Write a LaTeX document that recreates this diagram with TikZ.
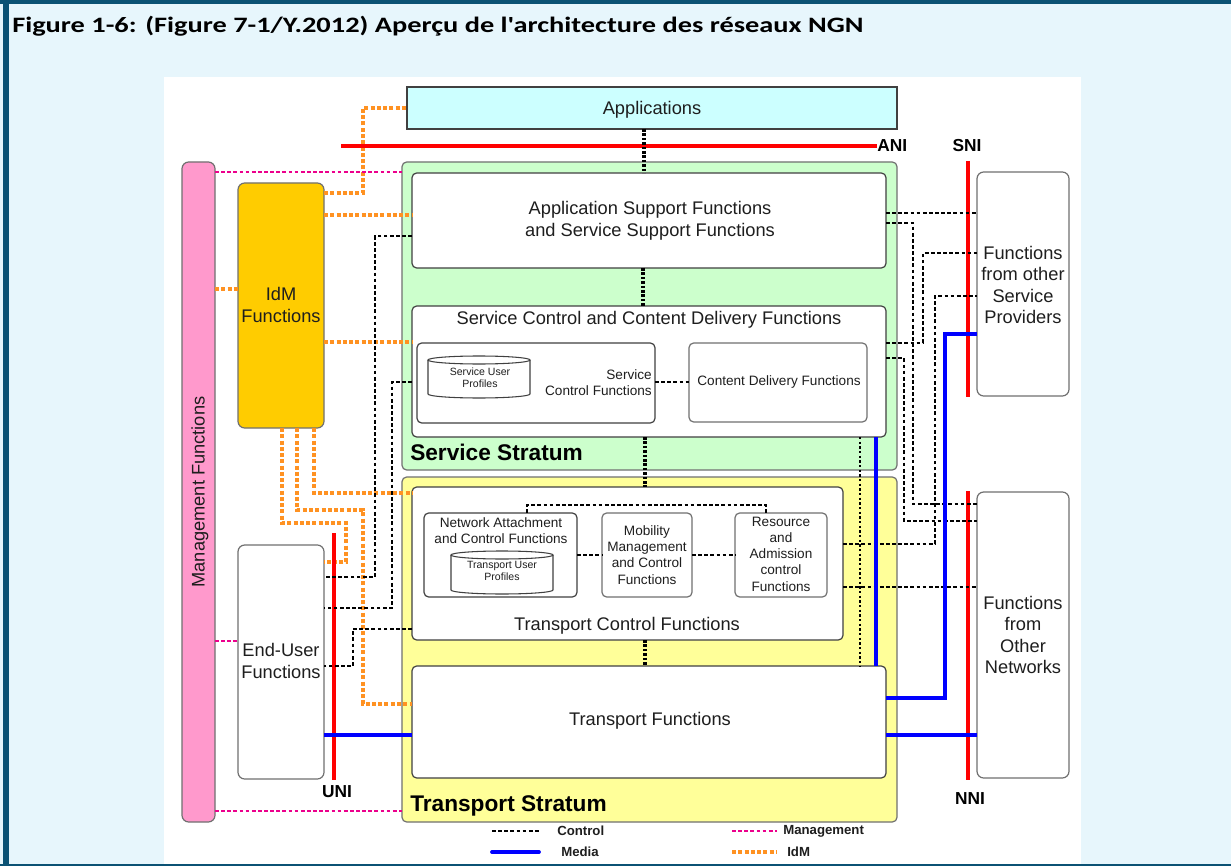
\documentclass[tikz,border=0pt]{standalone}
\usepackage{fontspec}
\setmainfont{Liberation Sans}
\newfontfamily\titlefont{Carlito}
\usetikzlibrary{fit}

\definecolor{frameblue}{HTML}{0B5274}
\definecolor{pageblue}{HTML}{E7F6FC}
\definecolor{appcyan}{HTML}{CCFFFF}
\definecolor{servgreen}{HTML}{CCFFCC}
\definecolor{transyellow}{HTML}{FFFF99}
\definecolor{mgmtpink}{HTML}{FF99CC}
\definecolor{idmgold}{HTML}{FFCC00}
\definecolor{idmorange}{HTML}{FF9222}
\definecolor{edgegray}{HTML}{707070}
\definecolor{darkedge}{HTML}{404040}
\definecolor{inkgray}{HTML}{1E1E1E}
\definecolor{mediablue}{HTML}{0000FF}

\tikzset{
  box/.style={draw=edgegray, line width=0.9pt, rounded corners=3.5pt, inner sep=0pt, outer sep=0pt},
  wbox/.style={box, fill=white},
  txt/.style={text=inkgray, align=center, inner sep=0pt, font=\fontsize{13.7}{16.2}\selectfont},
  smalltxt/.style={txt, font=\fontsize{10.2}{12.2}\selectfont},
  tinytxt/.style={txt, font=\fontsize{7.9}{9}\selectfont},
  stratlab/.style={text=black, inner sep=0pt, anchor=base west, font=\bfseries\fontsize{17}{20}\selectfont},
  iflab/.style={text=black, inner sep=0pt, font=\bfseries\fontsize{13}{15}\selectfont},
  legtxt/.style={text=inkgray, inner sep=0pt, anchor=west, font=\bfseries\fontsize{9.9}{12}\selectfont},
  ctrl/.style={draw=black, line width=2.2pt, dash pattern=on 2.8pt off 1.8pt},
  ctrlthick/.style={draw=black, line width=2.7pt, dash pattern=on 1.9pt off 1.4pt},
  ctrlthin/.style={draw=black, line width=1.8pt, dash pattern=on 1.8pt off 1.7pt},
  medialine/.style={draw=mediablue, line width=2.8pt},
  idmline/.style={draw=idmorange, line width=2.3pt, dash pattern=on 3pt off 1.7pt},
  mgmtline/.style={draw=magenta, line width=2.1pt, dash pattern=on 2.8pt off 1.8pt},
  iface/.style={draw=red, line width=2.8pt},
  cyl/.style={draw=darkedge, line width=0.8pt},
}

\begin{document}
\begin{tikzpicture}[x=0.75pt, y=-0.75pt]
\useasboundingbox (0,0) rectangle (1231,866);

% page frame and figure canvas
\fill[pageblue] (0,0) rectangle (1231,866);
\fill[white] (164,77) rectangle (1081,864);
\fill[frameblue] (0,0) rectangle (1231,4);
\fill[frameblue] (3,0) rectangle (8.5,866);
\fill[frameblue] (0,864) rectangle (1231,866);

\node[anchor=base west, inner sep=0pt, text=black, font=\titlefont\bfseries\fontsize{16.5}{19}\selectfont] (title) at (12,33)
  {\scalebox{1.29}[1]{Figure 1-6: (Figure 7-1/Y.2012) Aperçu de l'architecture des réseaux NGN}};

% strata
\node[box, fill=servgreen, fit={(402,162)(897,470)}] (ss) {};
\node[box, fill=transyellow, fit={(402,477)(897,822)}] (ts) {};
\node[stratlab] (ss-t) at (410,460) {Service Stratum};
\node[stratlab] (ts-t) at (410,811) {Transport Stratum};

% side blocks
\node[box, draw=darkedge, fill=appcyan, rounded corners=0pt, fit={(407,87)(897,129)}] (app) {};
\node[txt] (app-t) at (652,110) {Applications};
\node[box, fill=mgmtpink, rounded corners=5pt, fit={(182,162)(215,822)}] (mgmt) {};
\node[txt, rotate=90] (mgmt-t) at (200,492) {Management Functions};
\node[box, fill=idmgold, rounded corners=5pt, fit={(238,183)(324,428)}] (idm) {};
\node[txt] (idm-t) at (281,305) {IdM\\Functions};
\node[wbox, rounded corners=5pt, fit={(238,545)(324,779)}] (eu) {};
\node[txt] (eu-t) at (281,661) {End-User\\Functions};
\node[wbox, rounded corners=5pt, fit={(977,172)(1069,396)}] (osp) {};
\node[txt] (osp-t) at (1023,285) {Functions\\from other\\Service\\Providers};
\node[wbox, rounded corners=5pt, fit={(977,492)(1069,778)}] (onw) {};
\node[txt] (onw-t) at (1023,635) {Functions\\from\\Other\\Networks};

% service stratum content
\node[wbox, draw=darkedge, fit={(412,173)(886,268)}] (asf) {};
\node[txt] (asf-t) at (650,221) {Application Support Functions\\and Service Support Functions};
\node[wbox, draw=darkedge, fit={(412,306)(886,437)}] (scf) {};
\node[txt] (scf-t) at (649,320) {Service Control and Content Delivery Functions};
\node[wbox, draw=darkedge, fit={(417,343)(655,423)}] (scfi) {};
\node[smalltxt, align=right, anchor=east] (scfi-t) at (652,383) {Service\\Control Functions};
\node[wbox, fit={(689,343)(867,422)}] (cdf) {};
\node[smalltxt] (cdf-t) at (779,382) {Content Delivery Functions};
\node[inner sep=0pt, fit={(428,356)(530,398)}] (sup) {};
\draw[cyl, fill=white] (428,360) -- (428,394) arc[start angle=180, end angle=0, x radius=51, y radius=4] -- (530,360);
\draw[cyl] (479,360) ellipse[x radius=51, y radius=4];
\node[tinytxt] (sup-t) at (480,378) {Service User\\Profiles};

% transport stratum content
\node[wbox, draw=darkedge, fit={(412,487)(843,640)}] (tcf) {};
\node[txt] (tcf-t) at (627,626) {Transport Control Functions};
\node[wbox, draw=darkedge, fit={(424,513)(577,597)}] (nacf) {};
\node[smalltxt] (nacf-t) at (501,531) {Network Attachment\\and Control Functions};
\node[inner sep=0pt, fit={(451,551)(553,594)}] (tup) {};
\draw[cyl, fill=white] (451,555) -- (451,590) arc[start angle=180, end angle=0, x radius=51, y radius=4] -- (553,555);
\draw[cyl] (502,555) ellipse[x radius=51, y radius=4];
\node[tinytxt] (tup-t) at (502,571) {Transport User\\Profiles};
\node[wbox, fit={(602,513)(692,597)}] (mmcf) {};
\node[smalltxt] (mmcf-t) at (647,555) {Mobility\\Management\\and Control\\Functions};
\node[wbox, fit={(735,513)(827,597)}] (racf) {};
\node[smalltxt] (racf-t) at (781,554) {Resource\\and\\Admission\\control\\Functions};
\node[wbox, draw=darkedge, fit={(412,666)(886,778)}] (tf) {};
\node[txt] (tf-t) at (650,721) {Transport Functions};

% reference points (ANI, SNI, UNI, NNI)
\node[iflab, anchor=west] (ani) at (877,146) {ANI};
\coordinate (ani-w) at (341,146);
\node[iflab] (sni) at (967,146) {SNI};
\coordinate (sni-a) at (968,161);
\coordinate (sni-b) at (968,397);
\node[iflab] (nni) at (970,799) {NNI};
\coordinate (nni-a) at (968,491);
\coordinate (nni-b) at (968,780);
\node[iflab] (uni) at (337,792) {UNI};
\coordinate (uni-a) at (334,533);
\coordinate (uni-b) at (334,780);

% IdM links
\draw[idmline] (idm.east |- 0,193) -| (363,108) -- (app.west |- 0,108);
\draw[idmline] (idm.east |- 0,215) -- (asf.west |- 0,215);
\draw[idmline] (idm.east |- 0,342) -- (scf.west |- 0,342);
\draw[idmline] (mgmt.east |- 0,289) -- (idm.west |- 0,289);
\draw[idmline] (idm.south -| 314,0) |- (tcf.west |- 0,493);
\draw[idmline] (idm.south -| 297,0) |- (363,510) |- (tf.west |- 0,704);
\draw[idmline, line width=2.9pt] (idm.south -| 282,0) |- (346,523) |- (eu.east |- 0,562);

% management links
\draw[mgmtline] (mgmt.east |- 0,172) -- (ss.west |- 0,172);
\draw[mgmtline] (mgmt.east |- 0,641) -- (eu.west |- 0,641);
\draw[mgmtline] (mgmt.east |- 0,811) -- (ts.west |- 0,811);

% interface lines
\draw[iface] (ani-w) -- (ani.west);
\draw[iface] (sni-a) -- (sni-b);
\draw[iface] (nni-a) -- (nni-b);
\draw[iface] (uni-a) -- (uni-b);

% control links
\draw[ctrlthick] (app.south -| 644,0) -- (asf.north -| 644,0);
\draw[ctrlthick] (asf.south -| 643,0) -- (scf.north -| 643,0);
\draw[ctrlthick] (scf.south -| 645,0) -- (tcf.north -| 645,0);
\draw[ctrlthick] (tcf.south -| 645,0) -- (tf.north -| 645,0);
\draw[ctrl] (scfi.east |- 0,382) -- (cdf.west |- 0,382);
\draw[ctrl] (nacf.east) -- (mmcf.west);
\draw[ctrl] (mmcf.east) -- (racf.west);
\draw[ctrl] (nacf.north -| 527,0) -- ++(0,-8) -| (racf.north -| 766,0);
\draw[ctrl] (asf.west |- 0,236) -| (375,577) -- (eu.east |- 0,577);
\draw[ctrl] (scf.west |- 0,382) -| (392,608) -- (eu.east |- 0,608);
\draw[ctrl] (tcf.west |- 0,629) -| (353,666) -- (eu.east |- 0,666);
\draw[ctrl] (asf.east |- 0,213) -- (osp.west |- 0,213);
\draw[ctrl] (asf.east |- 0,223) -| (913,504) -- (onw.west |- 0,504);
\draw[ctrl] (scf.east |- 0,343) -| (923,253) -- (osp.west |- 0,253);
\draw[ctrl] (scf.east |- 0,358) -| (904,521) -- (onw.west |- 0,521);
\draw[ctrl] (tcf.east |- 0,544) -| (935,296) -- (osp.west |- 0,296);
\draw[ctrl] (tcf.east |- 0,587) -- (onw.west |- 0,587);
\draw[ctrlthin] (scf.south -| 860,0) -- (tf.north -| 860,0);

% media links
\draw[medialine] (scf.south -| 876,0) -- (tf.north -| 876,0);
\draw[medialine] (tf.east |- 0,698) -| (945,334) -- (osp.west |- 0,334);
\draw[medialine] (tf.east |- 0,735) -- (onw.west |- 0,735);
\draw[medialine] (eu.east |- 0,735) -- (tf.west |- 0,735);

% legend
\coordinate (lc-a) at (492,831); \coordinate (lc-b) at (539,831);
\coordinate (lm-a) at (492,852); \coordinate (lm-b) at (539,852);
\coordinate (lg-a) at (732,831); \coordinate (lg-b) at (777,831);
\coordinate (li-a) at (732,852); \coordinate (li-b) at (777,852);
\draw[ctrl] (lc-a) -- (lc-b);
\draw[medialine, line cap=round] (lm-a) -- (lm-b);
\draw[mgmtline] (lg-a) -- (lg-b);
\draw[idmline] (li-a) -- (li-b);
\node[legtxt] (lc-t) at (557,831) {Control};
\node[legtxt] (lm-t) at (561,852) {Media};
\node[legtxt] (lg-t) at (783,831) {Management};
\node[legtxt] (li-t) at (787,852) {IdM};
\end{tikzpicture}
\end{document}
